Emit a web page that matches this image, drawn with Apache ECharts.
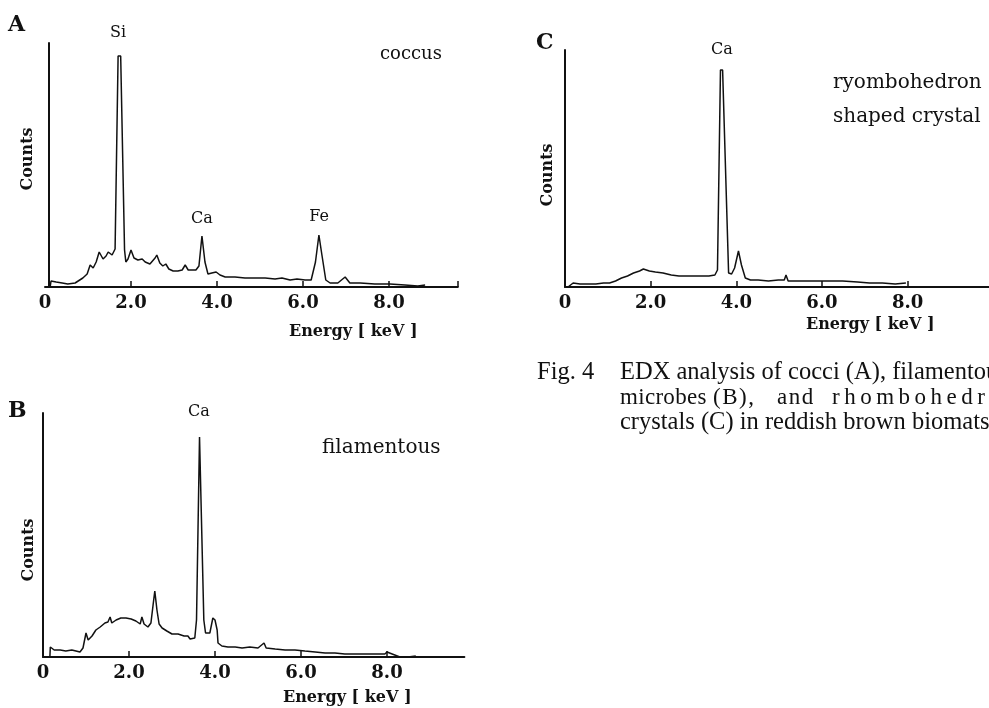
<!DOCTYPE html>
<html>
<head>
<meta charset="utf-8">
<script src="https://cdn.jsdelivr.net/npm/echarts@6/dist/echarts.min.js"></script>
<style>
  html, body { margin: 0; background: #fff; }
  #chart { width: 989px; height: 708px; }
</style>
</head>
<body>
<div id="chart"></div>
<script>
// A: coccus (energy in keV, counts in arbitrary units)
const energyA = [0.12, 0.14, 0.26, 0.40, 0.53, 0.70, 0.88, 0.98, 1.05, 1.12, 1.19, 1.26, 1.35, 1.42, 1.47, 1.56, 1.63,
  1.67, 1.70, 1.76, 1.85, 1.88, 1.93, 2.00, 2.07, 2.16, 2.26, 2.33, 2.44, 2.56, 2.60, 2.67, 2.74, 2.81, 2.88, 2.98,
  3.09, 3.19, 3.26, 3.33, 3.51, 3.58, 3.65, 3.72, 3.79, 3.88, 3.98, 4.07, 4.19, 4.42, 4.65, 4.88, 5.12, 5.35, 5.51,
  5.70, 5.86, 6.05, 6.19, 6.29, 6.37, 6.44, 6.53, 6.63, 6.81, 6.98, 7.09, 7.33, 7.67, 8.02, 8.37, 8.67, 8.84]
const countsA = [0, 6, 5, 4, 3, 4, 9, 13, 22, 19, 25, 35, 28, 31, 35, 32, 38,
  39, 231, 231, 37, 25, 28, 37, 29, 27, 28, 25, 23, 29, 32, 24, 21, 23, 18, 16,
  16, 17, 22, 17, 17, 21, 51, 25, 13, 14, 15, 12, 10, 10, 9, 9, 9, 8, 9,
  7, 8, 7, 7, 25, 52, 32, 7, 4, 4, 10, 4, 4, 3, 3, 2, 1, 2]

// B: filamentous
const energyB = [0.16, 0.17, 0.26, 0.40, 0.53, 0.67, 0.86, 0.93, 1.00, 1.05, 1.14, 1.23, 1.33, 1.44, 1.51, 1.56, 1.60,
  1.70, 1.81, 1.93, 2.05, 2.16, 2.26, 2.30, 2.35, 2.44, 2.51, 2.56, 2.60, 2.65, 2.70, 2.77, 2.88, 3.00, 3.14, 3.28,
  3.37, 3.42, 3.53, 3.57, 3.64, 3.66, 3.74, 3.78, 3.88, 3.95, 4.00, 4.05, 4.07, 4.16, 4.30, 4.47, 4.63, 4.81, 5.00,
  5.14, 5.19, 5.40, 5.63, 5.86, 6.09, 6.33, 6.56, 6.79, 7.02, 7.26, 7.49, 7.72, 7.95, 8.00, 8.12, 8.30, 8.49, 8.67]
const countsB = [0, 10, 7, 7, 6, 7, 5, 9, 24, 17, 21, 27, 30, 34, 35, 40, 34,
  37, 39, 39, 38, 36, 33, 40, 33, 30, 34, 52, 66, 47, 33, 29, 26, 23, 23, 21,
  21, 18, 19, 37, 220, 220, 37, 24, 24, 39, 37, 27, 14, 11, 10, 10, 9, 10, 9,
  14, 9, 8, 7, 7, 6, 5, 4, 4, 3, 3, 3, 3, 3, 5, 3, 0, 0, 1]

// C: rhombohedron shaped crystal
const energyC = [0.07, 0.19, 0.35, 0.53, 0.72, 0.90, 1.04, 1.18, 1.32, 1.46, 1.60, 1.74, 1.83, 1.97, 2.11, 2.29, 2.48,
  2.66, 2.89, 3.13, 3.36, 3.50, 3.56, 3.63, 3.68, 3.82, 3.89, 3.96, 4.05, 4.12, 4.21, 4.33, 4.51, 4.75, 4.98, 5.12,
  5.16, 5.21, 5.44, 5.79, 6.13, 6.48, 6.83, 7.11, 7.41, 7.71, 7.96]
const countsC = [0, 4, 3, 3, 3, 4, 4, 6, 9, 11, 14, 16, 18, 16, 15, 14, 12,
  11, 11, 11, 11, 12, 17, 217, 217, 14, 13, 19, 36, 22, 9, 7, 7, 6, 7, 7,
  12, 6, 6, 6, 6, 6, 5, 4, 4, 3, 4]

const tickLabels = [0, 2, 4, 6, 8]
const ink = '#111'

function pairs(xs, ys) {
  return xs.map((x, i) => [x, ys[i]])
}

function energyAxis(gridIndex, max, ticks) {
  return {
    type: 'value',
    gridIndex,
    min: 0,
    max,
    axisLine: { lineStyle: { color: ink, width: 2 } },
    axisTick: { inside: true, length: 6, customValues: ticks, lineStyle: { color: ink, width: 1.5 } },
    axisLabel: {
      customValues: tickLabels,
      formatter: (v) => (v === 0 ? '0' : v.toFixed(1)),
      color: ink,
      fontFamily: 'DejaVu Serif',
      fontWeight: 'bold',
      fontSize: 18,
      margin: 7,
    },
    splitLine: { show: false },
  }
}

function countsAxis(gridIndex, max, offset) {
  return {
    type: 'value',
    gridIndex,
    min: 0,
    max,
    offset: offset || 0,
    axisLine: { show: true, lineStyle: { color: ink, width: 2 } },
    axisTick: { show: false },
    axisLabel: { show: false },
    splitLine: { show: false },
  }
}

function spectrum(i, data) {
  return {
    type: 'line',
    xAxisIndex: i,
    yAxisIndex: i,
    data,
    symbol: 'none',
    lineStyle: { color: ink, width: 1.5 },
    silent: true,
  }
}

function txt(x, y, text, font, extra) {
  return {
    type: 'text',
    x,
    y,
    style: Object.assign({ text, font, fill: ink, verticalAlign: 'middle', align: 'left' }, extra),
  }
}

function vtxt(x, y, text, font) {
  return {
    type: 'text',
    x,
    y,
    rotation: Math.PI / 2,
    style: { text, font, fill: ink, align: 'center', verticalAlign: 'middle' },
  }
}

// justified caption word: letters spread out by a fixed gap
const measureCtx = document.createElement('canvas').getContext('2d')
function spacedWord(x, y, word, font, gap) {
  measureCtx.font = font
  const out = []
  let cx = x
  for (const ch of word) {
    out.push(txt(cx, y, ch, font))
    cx += measureCtx.measureText(ch).width + gap
  }
  return out
}

const serif = '"DejaVu Serif"'
const letterFont = 'bold 22px ' + serif
const peakFont = '16px ' + serif
const noteFont = '20px ' + serif
const axisNameFont = 'bold 16px ' + serif
const capFont = '24.5px "Liberation Serif"'
const capFont2 = '23px "Liberation Serif"'

const chart = echarts.init(document.getElementById('chart'), null, { renderer: 'canvas' })
chart.setOption({
  backgroundColor: '#fff',
  animation: false,
  grid: [
    { left: 45, top: 43, width: 412.8, height: 244 },
    { left: 43, top: 413, width: 421.4, height: 244 },
    { left: 565, top: 50, width: 427.7, height: 237 },
  ],
  xAxis: [
    energyAxis(0, 9.6, [2, 4, 6, 8, 9.6]),
    energyAxis(1, 9.8, [2, 4, 6, 8]),
    energyAxis(2, 9.9, [2, 4, 6, 8]),
  ],
  yAxis: [countsAxis(0, 244, -4), countsAxis(1, 244), countsAxis(2, 237, 1)],
  series: [
    spectrum(0, pairs(energyA, countsA)),
    spectrum(1, pairs(energyB, countsB)),
    spectrum(2, pairs(energyC, countsC)),
  ],
  graphic: [
    // panel A
    txt(8, 25, 'A', letterFont),
    txt(118, 33, 'Si', peakFont, { align: 'center' }),
    txt(202, 219, 'Ca', peakFont, { align: 'center' }),
    txt(319, 217, 'Fe', peakFont, { align: 'center' }),
    txt(380, 54, 'coccus', '18px ' + serif),
    txt(289, 332, 'Energy [ keV ]', axisNameFont),
    vtxt(28, 159, 'Counts', axisNameFont),
    // panel B
    txt(8, 411, 'B', letterFont),
    txt(199, 412, 'Ca', peakFont, { align: 'center' }),
    txt(322, 448, 'filamentous', noteFont),
    txt(283, 698, 'Energy [ keV ]', axisNameFont),
    vtxt(29, 550, 'Counts', axisNameFont),
    // panel C
    txt(536, 43, 'C', letterFont),
    txt(722, 50, 'Ca', peakFont, { align: 'center' }),
    txt(833, 83, 'ryombohedron', noteFont),
    txt(833, 117, 'shaped crystal', noteFont),
    txt(806, 325, 'Energy [ keV ]', axisNameFont),
    vtxt(548, 175, 'Counts', axisNameFont),
    // caption
    txt(537, 373, 'Fig. 4', capFont),
    txt(620, 373, 'EDX analysis of cocci (A), filamentous', capFont),
    ...spacedWord(620, 398, 'microbes', capFont2, 0.3),
    ...spacedWord(713, 398, '(B),', capFont2, 1.5),
    ...spacedWord(777, 398, 'and', capFont2, 1.5),
    ...spacedWord(832, 398, 'rhombohedral', capFont2, 4.5),
    txt(620, 423, 'crystals (C) in reddish brown biomats.', capFont),
  ],
})
</script>
</body>
</html>
